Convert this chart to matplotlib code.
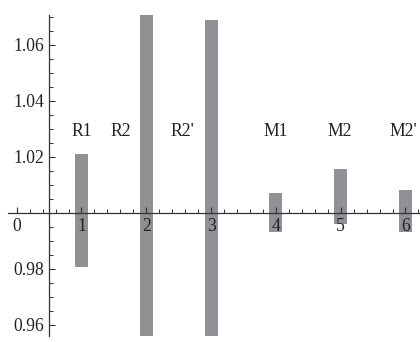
import matplotlib.pyplot as plt
import numpy as np
from matplotlib.ticker import MultipleLocator

# dados
posicoes = [1, 2, 3, 4, 5, 6]
minimos = [0.9807, 0.94, 0.94, 0.993, 0.996, 0.9933]
maximos = [1.021, 1.0711, 1.0689, 1.0071, 1.0157, 1.0082]
rotulos = ["R1", "R2", "R2'", "M1", "M2", "M2'"]
rotulos_x = [1, 1.61, 2.56, 3.99, 4.99, 5.96]
rotulo_y = 1.0275

plt.rcParams['font.family'] = ['Liberation Serif', 'DejaVu Serif']
fig = plt.figure(figsize=(4.2, 3.42), dpi=100)
# eixo de 8 px a 420 px na horizontal, de 15 px a 336 px na vertical
ax = fig.add_axes([8 / 420, 6 / 342, 412 / 420, 321 / 342])

alturas = np.array(maximos) - np.array(minimos)
ax.bar(posicoes, alturas, bottom=minimos, width=0.2, color="#909095", zorder=1)

for x, txt in zip(rotulos_x, rotulos):
    ax.text(x, rotulo_y, txt, ha="center", va="baseline", fontsize=12.7, color="#222222")

ax.set_xlim(-0.134, 6.224)
ax.set_ylim(0.956, 1.0707)

# eixos no estilo Mathematica
for lado in ["top", "right"]:
    ax.spines[lado].set_visible(False)
ax.spines["left"].set_position(("data", 0.5))
ax.spines["bottom"].set_position(("data", 1.0))
for lado in ["left", "bottom"]:
    ax.spines[lado].set_color("#333333")
    ax.spines[lado].set_linewidth(0.9)
    ax.spines[lado].set_zorder(3)

ax.set_xticks([0, 1, 2, 3, 4, 5, 6])
ax.set_xticklabels(["0", "1", "2", "3", "4", "5", "6"])
ax.xaxis.set_minor_locator(MultipleLocator(0.2))
ax.set_yticks([0.96, 0.98, 1.02, 1.04, 1.06])
ax.set_yticklabels(["0.96", "0.98", "1.02", "1.04", "1.06"])
ax.yaxis.set_minor_locator(MultipleLocator(0.005))

ax.tick_params(which="major", direction="in", length=4.3, width=0.8, color="#333333",
               labelsize=12.7, labelcolor="#222222", pad=3.5)
ax.tick_params(which="minor", direction="in", length=2.8, width=0.7, color="#333333")

for t in ax.get_xticklabels() + ax.get_yticklabels():
    t.set_zorder(4)

fig.savefig("out.png", dpi=100)
